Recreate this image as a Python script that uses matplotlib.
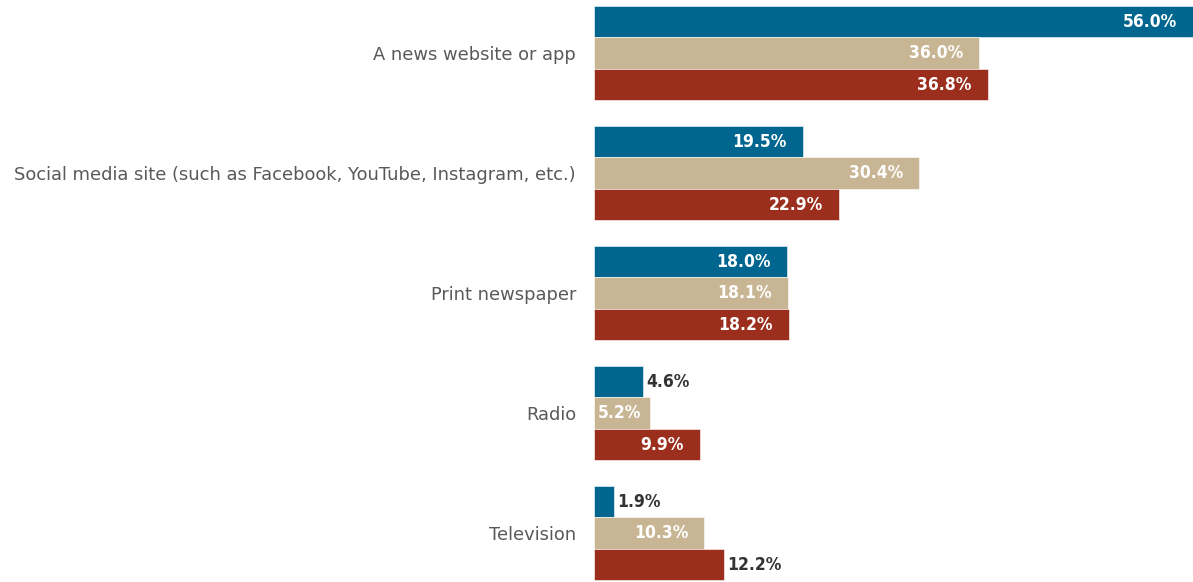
import matplotlib.pyplot as plt

categories = ["A news website or app",
              "Social media site (such as Facebook, YouTube, Instagram, etc.)",
              "Print newspaper",
              "Radio",
              "Television"]
series_a = [56.0, 19.5, 18.0, 4.6, 1.9]
series_b = [36.0, 30.4, 18.1, 5.2, 10.3]
series_c = [36.8, 22.9, 18.2, 9.9, 12.2]
colors = ["#00658F", "#C8B593", "#9B2E1C"]

# (series index, category index) pairs whose value label sits outside the bar
outside = {(0, 3), (0, 4), (2, 4)}

fig = plt.figure(figsize=(11.93, 5.82), dpi=100)
ax = fig.add_axes([594 / 1193, 0, 599 / 1193, 1])

h = 0.26
offsets = [-0.2625, 0, 0.2625]
inside_labels = []
for s, vals in enumerate([series_a, series_b, series_c]):
    for i, v in enumerate(vals):
        y = i + offsets[s]
        ax.barh(y, v, height=h, color=colors[s], edgecolor="white", linewidth=0.4)
        txt = f"{v:.1f}%"
        if (s, i) in outside:
            ax.annotate(txt, (v, y), xytext=(2, 0), textcoords="offset points",
                        ha="left", va="center", color="#333333",
                        fontsize=12.5, fontweight="bold", fontstretch="condensed")
        else:
            t = ax.annotate(txt, (v, y), xytext=(-11.5, 0), textcoords="offset points",
                            ha="right", va="center", color="white",
                            fontsize=12.5, fontweight="bold", fontstretch="condensed")
            inside_labels.append(t)

ax.set_xlim(0, 56.0)
ax.set_ylim(4.408, -0.442)
ax.set_yticks(range(len(categories)))
ax.set_yticklabels(categories, fontsize=12.9, color="#595959")
ax.tick_params(axis="y", length=0, pad=13)
ax.set_xticks([])
for sp in ax.spines.values():
    sp.set_visible(False)

# short bars: pull the label right so it stays inside the bar
fig.canvas.draw()
r = fig.canvas.get_renderer()
left = ax.get_window_extent(r).x0
for t in inside_labels:
    bb = t.get_window_extent(r)
    if bb.x0 < left + 4:
        shift = (left + 4 - bb.x0) * 72 / fig.dpi
        t.set_position((-11.5 + shift, 0))

fig.savefig("out.png", dpi=100)
